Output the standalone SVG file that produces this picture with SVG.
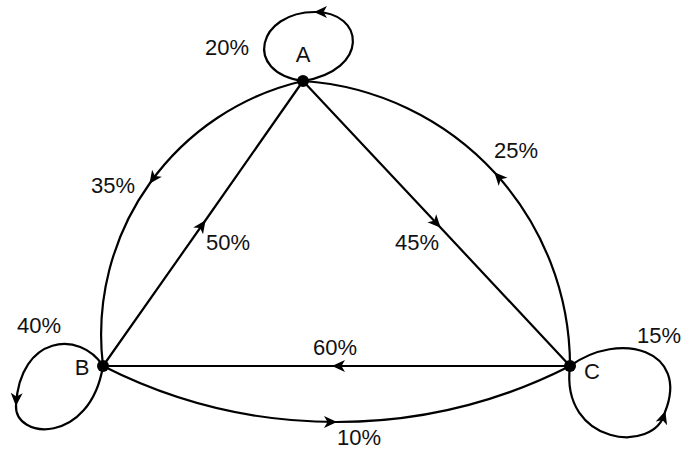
<svg xmlns="http://www.w3.org/2000/svg" width="684" height="450" viewBox="0 0 684 450">
<style>
.e{fill:none;stroke:#000;stroke-width:2.2;marker-mid:url(#ah)}
.n{fill:#000}
.t{font-family:"Liberation Sans",Arial,sans-serif;font-size:22px;fill:#111;text-anchor:middle}
</style>
<defs>
<marker id="ah" markerUnits="userSpaceOnUse" markerWidth="16" markerHeight="14" refX="12" refY="6" orient="auto" viewBox="0 0 16 14">
<path d="M0,0 L13,6 L0,12 L3.5,6 z" fill="#000"/>
</marker>
</defs>
<rect width="684" height="450" fill="#fff"/>
<g id="connectors">
<path class="e" d="M303,81 A260,260 0 0 0 150,183 A260,260 0 0 0 103,366"/>
<path class="e" d="M570,366 A286,286 0 0 0 495,173 A286,286 0 0 0 303,81"/>
<path class="e" d="M103,366 A515,515 0 0 0 336,422 A515,515 0 0 0 570,366"/>
<path class="e" d="M103,366 L205,221 L303,81"/>
<path class="e" d="M303,81 L440,227 L570,366"/>
<path class="e" d="M570,366 L333,366 L103,366"/>
<path class="e" d="M303,81 C370,70 365,12 315,12 C258,12 242,72 303,81"/>
<path class="e" d="M103,366 C80,330 20,335 16,405 C14,440 90,445 103,366"/>
<path class="e" d="M570,366 C560,445 655,455 665,412 C690,350 620,330 570,366"/>
</g>
<g id="A"><circle class="n" cx="303" cy="81" r="6"/><text class="t" x="303" y="62">A</text></g>
<g id="B"><circle class="n" cx="103" cy="366" r="6"/><text class="t" x="82" y="375">B</text></g>
<g id="C"><circle class="n" cx="570" cy="366" r="6"/><text class="t" x="592" y="379">C</text></g>
<g id="labels">
<text class="t" x="227" y="55">20%</text>
<text class="t" x="113" y="193">35%</text>
<text class="t" x="228" y="250">50%</text>
<text class="t" x="417" y="250">45%</text>
<text class="t" x="516" y="158">25%</text>
<text class="t" x="39" y="333">40%</text>
<text class="t" x="335" y="355">60%</text>
<text class="t" x="359" y="445">10%</text>
<text class="t" x="659" y="343">15%</text>
</g>
</svg>
